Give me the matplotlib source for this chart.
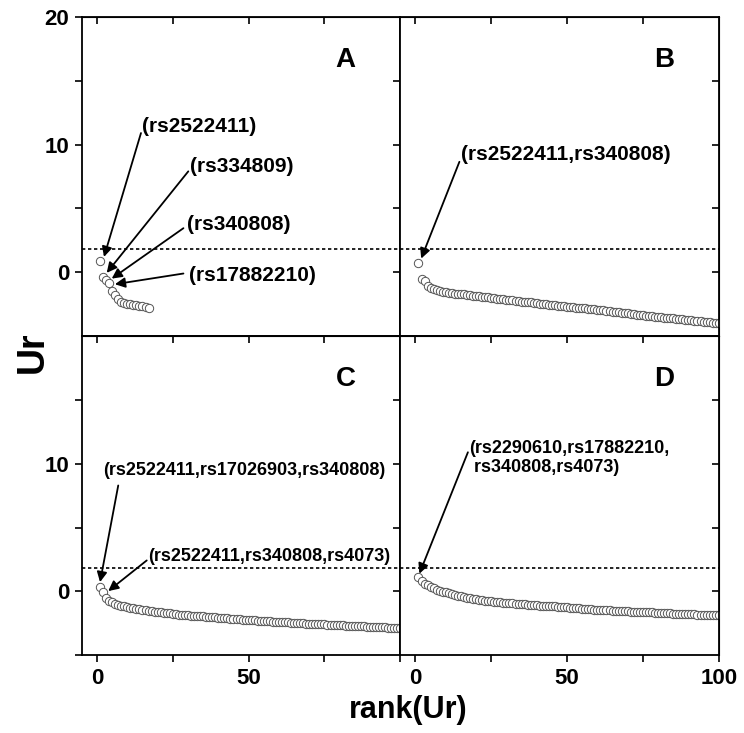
import matplotlib
matplotlib.use('Agg')
import matplotlib.pyplot as plt

plt.rcParams['font.family'] = 'Liberation Sans'
plt.rcParams['font.weight'] = 'bold'

# Ur values by rank
ur_a = [0.85, -0.40, -0.60, -0.85, -1.50, -1.80, -2.10, -2.30, -2.40, -2.45,
        -2.50, -2.55, -2.60, -2.62, -2.65, -2.70, -2.80]

ur_b = [0.76, -0.55, -0.68, -1.10, -1.25, -1.35, -1.42, -1.48, -1.53, -1.58,
        -1.62, -1.65, -1.67, -1.70, -1.72, -1.74, -1.76, -1.80, -1.83, -1.86,
        -1.89, -1.92, -1.95, -1.97, -2.00, -2.03, -2.06, -2.09, -2.12, -2.15,
        -2.18, -2.21, -2.24, -2.27, -2.30, -2.32, -2.35, -2.37, -2.40, -2.43,
        -2.45, -2.48, -2.50, -2.53, -2.56, -2.58, -2.61, -2.64, -2.67, -2.70,
        -2.72, -2.74, -2.77, -2.79, -2.81, -2.84, -2.86, -2.88, -2.90, -2.93,
        -2.96, -2.99, -3.02, -3.05, -3.08, -3.11, -3.14, -3.17, -3.20, -3.23,
        -3.26, -3.29, -3.32, -3.35, -3.37, -3.40, -3.42, -3.45, -3.47, -3.50,
        -3.52, -3.55, -3.57, -3.60, -3.62, -3.65, -3.67, -3.70, -3.72, -3.75,
        -3.77, -3.80, -3.82, -3.85, -3.87, -3.90, -3.92, -3.95, -3.97, -4.00]

ur_c = [0.34, -0.05, -0.55, -0.72, -0.85, -0.95, -1.03, -1.10, -1.16, -1.22,
        -1.28, -1.33, -1.37, -1.41, -1.45, -1.48, -1.51, -1.54, -1.57, -1.60,
        -1.62, -1.65, -1.68, -1.70, -1.74, -1.78, -1.82, -1.84, -1.86, -1.88,
        -1.89, -1.91, -1.92, -1.94, -1.95, -1.97, -1.98, -2.00, -2.02, -2.04,
        -2.06, -2.08, -2.10, -2.12, -2.14, -2.16, -2.18, -2.20, -2.22, -2.23,
        -2.25, -2.26, -2.28, -2.30, -2.31, -2.33, -2.35, -2.36, -2.38, -2.40,
        -2.41, -2.42, -2.43, -2.44, -2.46, -2.47, -2.48, -2.49, -2.51, -2.52,
        -2.53, -2.54, -2.56, -2.57, -2.58, -2.59, -2.61, -2.62, -2.63, -2.64,
        -2.66, -2.67, -2.68, -2.69, -2.71, -2.72, -2.73, -2.74, -2.75, -2.76,
        -2.78, -2.79, -2.80, -2.81, -2.82, -2.83, -2.84, -2.85, -2.86, -2.87]

ur_d = [1.12, 0.78, 0.60, 0.47, 0.34, 0.24, 0.15, 0.06, -0.02, -0.08,
        -0.14, -0.20, -0.27, -0.33, -0.38, -0.43, -0.48, -0.53, -0.58, -0.62,
        -0.65, -0.68, -0.71, -0.74, -0.77, -0.80, -0.83, -0.85, -0.87, -0.89,
        -0.91, -0.93, -0.95, -0.97, -0.99, -1.01, -1.03, -1.05, -1.07, -1.08,
        -1.10, -1.11, -1.13, -1.14, -1.16, -1.17, -1.19, -1.20, -1.22, -1.24,
        -1.26, -1.28, -1.30, -1.32, -1.34, -1.36, -1.38, -1.40, -1.42, -1.44,
        -1.45, -1.46, -1.47, -1.48, -1.50, -1.51, -1.52, -1.53, -1.55, -1.56,
        -1.57, -1.58, -1.59, -1.60, -1.61, -1.62, -1.63, -1.64, -1.65, -1.67,
        -1.68, -1.70, -1.71, -1.72, -1.73, -1.74, -1.75, -1.76, -1.77, -1.78,
        -1.79, -1.80, -1.81, -1.82, -1.83, -1.84, -1.85, -1.86, -1.87, -1.88]

threshold = 1.85
panel_names = ['A', 'B', 'C', 'D']

# annotations: (label, text xy, arrow start, arrow tip)
notes_a = [('(rs2522411)', (14.8, 11.4), (14.5, 10.9), (2.3, 1.2)),
           ('(rs334809)', (30.7, 8.3), (30.1, 7.9), (3.2, -0.05)),
           ('(rs340808)', (29.7, 3.7), (28.5, 3.45), (4.85, -0.5)),
           ('(rs17882210)', (30.4, -0.25), (28.5, -0.1), (5.9, -0.94))]
notes_b = [('(rs2522411,rs340808)', (15.1, 9.2), (14.5, 8.65), (1.9, 1.07))]
notes_c = [('(rs2522411,rs17026903,rs340808)', (1.9, 9.5), (7.0, 8.3), (1.0, 0.73)),
           ('(rs2522411,rs340808,rs4073)', (16.9, 2.7), (16.4, 2.43), (3.7, 0.03))]
notes_d = [('(rs2290610,rs17882210,\n rs340808,rs4073)', (17.6, 10.45), (17.3, 10.9), (1.3, 1.39))]

fig, axs = plt.subplots(2, 2, figsize=(7.44, 7.33), dpi=100)
plt.subplots_adjust(left=0.110, right=0.966, top=0.977, bottom=0.106, wspace=0, hspace=0)

data = [ur_a, ur_b, ur_c, ur_d]
notes = [notes_a, notes_b, notes_c, notes_d]
note_size = [15, 15, 13, 13]

for i, ax in enumerate(axs.flat):
    row, col = divmod(i, 2)
    ur = data[i]
    rank = list(range(1, len(ur) + 1))
    ax.plot(rank, ur, 'o', ms=6, mfc='white', mec='#555555', mew=0.7)
    ax.axhline(threshold, color='black', lw=1.2, ls=(0, (2, 1.6)))
    ax.set_xlim(-5, 100)
    ax.set_ylim(-5, 20)
    for s in ax.spines.values():
        s.set_linewidth(1.3)

    ax.text(82, 16.6, panel_names[i], fontsize=20, fontweight='bold', ha='center', va='center')
    for label, txy, start, tip in notes[i]:
        ax.text(txy[0], txy[1], label, fontsize=note_size[i], fontweight='bold',
                ha='left', va='center', linespacing=1.2)
        ax.annotate('', xy=tip, xytext=start,
                    arrowprops=dict(arrowstyle='-|>', color='black', lw=1.3,
                                    mutation_scale=15, shrinkA=0, shrinkB=0))

    # x ticks
    ax.set_xticks([0, 25, 50, 75, 100])
    if row == 1:
        ax.set_xticklabels(['0', '', '50', '', '100' if col == 1 else ''])
        ax.tick_params(axis='x', direction='out', length=5, width=1.2, labelsize=16, pad=4)
    else:
        ax.tick_params(axis='x', bottom=False, labelbottom=False)
    top = ax.secondary_xaxis('top')
    top.set_xticks([0, 25, 50, 75])
    top.tick_params(direction='in', length=5, width=1.2, labeltop=False)

    # y ticks
    if row == 0:
        ax.set_yticks([0, 5, 10, 15, 20])
        ax.set_yticklabels(['0', '', '10', '', '20'])
    else:
        ax.set_yticks([-5, 0, 5, 10, 15])
        ax.set_yticklabels(['', '0', '', '10', ''])
    if col == 0:
        ax.tick_params(axis='y', direction='out', length=5, width=1.2, labelsize=16, pad=4)
    else:
        ax.tick_params(axis='y', left=False, labelleft=False)
    right = ax.secondary_yaxis('right')
    right.set_yticks([0, 5, 10, 15])
    right.tick_params(direction='in', length=5, width=1.2, labelright=False)

fig.text(0.044, 0.52, 'Ur', rotation=90, fontsize=27, fontweight='bold', ha='center', va='center')
fig.text(0.548, 0.032, 'rank(Ur)', fontsize=22, fontweight='bold', ha='center', va='center')

plt.savefig('out.png', dpi=100)
